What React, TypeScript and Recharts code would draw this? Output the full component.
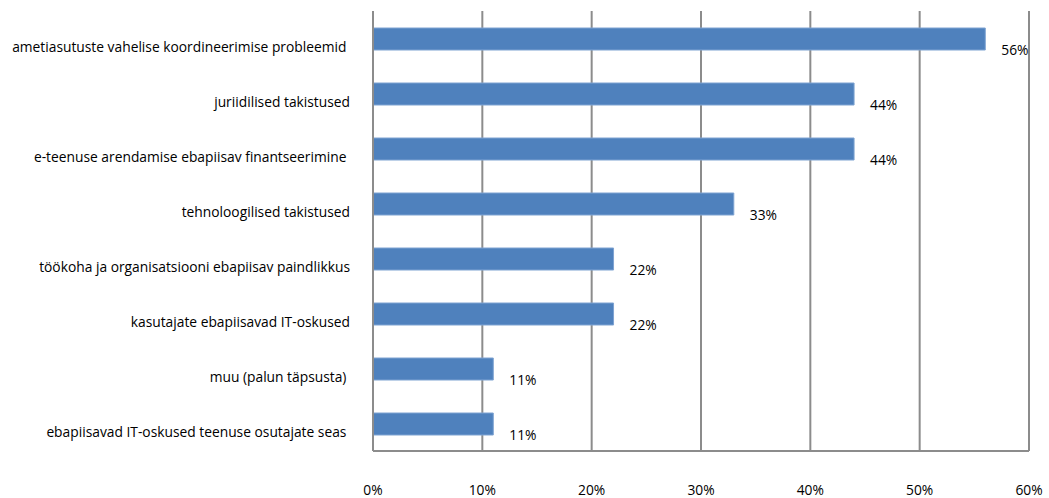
import React from "react";
import {
  BarChart,
  Bar,
  XAxis,
  YAxis,
  CartesianGrid,
  LabelList,
} from "recharts";

const categories = [
  "ametiasutuste vahelise koordineerimise probleemid ",
  "juriidilised takistused",
  "e-teenuse arendamise ebapiisav finantseerimine ",
  "tehnoloogilised takistused",
  "töökoha ja organisatsiooni ebapiisav paindlikkus",
  "kasutajate ebapiisavad IT-oskused",
  "muu (palun täpsusta) ",
  "ebapiisavad IT-oskused teenuse osutajate seas ",
];

const shares = [0.56, 0.44, 0.44, 0.33, 0.22, 0.22, 0.11, 0.11];

const xTicks = [0, 0.1, 0.2, 0.3, 0.4, 0.5, 0.6];

const data = categories.map((name, i) => ({ name, value: shares[i] }));

const FONT = "'Open Sans', Lato, sans-serif";
const FONT_SIZE = 13.8;
const GRID = "#8c8c8c";

function CategoryTick({ x, y, payload }: any) {
  return (
    <text
      x={x - 15}
      y={y + 8}
      textAnchor="end"
      dominantBaseline="central"
      fontFamily={FONT}
      fontSize={FONT_SIZE}
      fill="#000"
      style={{ whiteSpace: "pre" }}
    >
      {payload.value}
    </text>
  );
}

function PercentTick({ x, y, payload }: any) {
  return (
    <text
      x={x}
      y={y + 30}
      textAnchor="middle"
      dominantBaseline="central"
      fontFamily={FONT}
      fontSize={FONT_SIZE}
      fill="#000"
    >
      {`${Math.round(payload.value * 100)}%`}
    </text>
  );
}

function ValueLabel({ x, y, width, height, value }: any) {
  return (
    <text
      x={x + width + 16}
      y={y + height / 2 + 10}
      textAnchor="start"
      dominantBaseline="central"
      fontFamily={FONT}
      fontSize={FONT_SIZE}
      fill="#000"
    >
      {`${Math.round(value * 100)}%`}
    </text>
  );
}

export default function App() {
  return (
    <div style={{ position: "absolute", left: 0, top: 0, background: "#fff" }}>
      <BarChart
        width={1049}
        height={498}
        data={data}
        layout="vertical"
        margin={{ top: 11, right: 20, bottom: 0, left: 0 }}
        barSize={22}
      >
        <CartesianGrid
          horizontal={false}
          vertical
          stroke={GRID}
          strokeWidth={2}
        />
        <XAxis
          type="number"
          domain={[0, 0.6]}
          ticks={xTicks}
          height={47}
          axisLine={{ stroke: GRID, strokeWidth: 2 }}
          tickLine={false}
          tick={<PercentTick />}
          interval={0}
        />
        <YAxis
          type="category"
          dataKey="name"
          width={373}
          axisLine={{ stroke: GRID, strokeWidth: 2 }}
          tickLine={false}
          tick={<CategoryTick />}
          interval={0}
        />
        <Bar
          dataKey="value"
          fill="#4f81bd"
          stroke="#7ea3d2"
          strokeWidth={1}
          isAnimationActive={false}
        >
          <LabelList dataKey="value" content={<ValueLabel />} />
        </Bar>
      </BarChart>
    </div>
  );
}
